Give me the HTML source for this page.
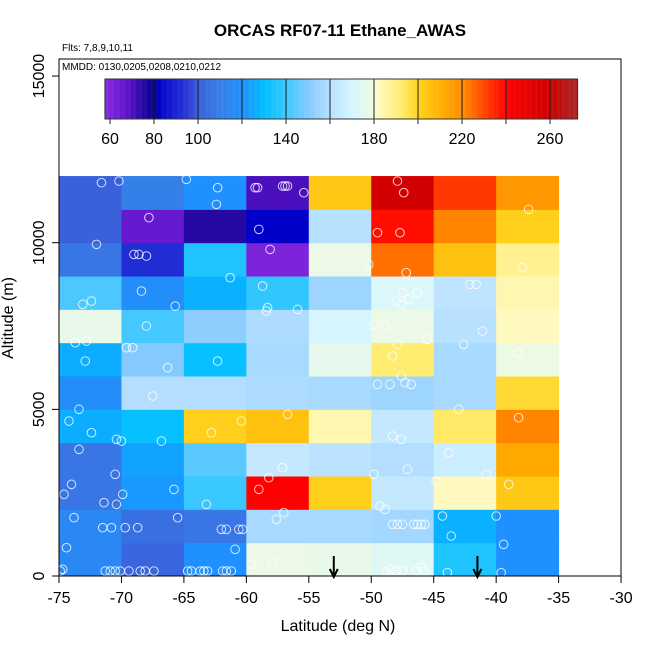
<!DOCTYPE html>
<html><head><meta charset="utf-8"><style>
html,body{margin:0;padding:0;background:#fff;}
svg{display:block;font-family:"Liberation Sans",sans-serif;}
</style></head><body>
<svg id="chart" width="650" height="650" viewBox="0 0 650 650">
<rect x="0" y="0" width="650" height="650" fill="#fff"/>
<text x="340" y="36" text-anchor="middle" font-size="17" font-weight="bold">ORCAS RF07-11 Ethane_AWAS</text>
<text x="62" y="51" font-size="10">Flts: 7,8,9,10,11</text>
<text x="62" y="70" font-size="10">MMDD: 0130,0205,0208,0210,0212</text>
<g id="cells"></g>
<g id="points"></g>
<g id="arrows"></g>
<g id="cbar"></g>
<g id="axes"></g>
<rect x="59" y="59" width="562" height="517" fill="none" stroke="#000" stroke-width="1"/>
<text x="338" y="631" text-anchor="middle" font-size="16">Latitude (deg N)</text>
<text transform="translate(13,318) rotate(-90)" text-anchor="middle" font-size="16">Altitude (m)</text>
</svg>
<script>
const latBins = [-75,-70,-65,-60,-55,-50,-45,-40];
const altBins = [0,1000,2000,3000,4000,5000,6000,7000,8000,9000,10000,11000];
// values[row][col], row 0 = 0-1000 m
const row0 = [115,102,120,178,177,174,135,120];
const row1 = [115,105,107,157,157,156,127,120];
const row2 = [107,122,139,240,201,164,182,203];
const row3 = [107,124,144,164,161,159,166,212];
const row4 = [126,131,201,205,184,164,193,221];
const row5 = [118,159,159,158,157,155,157,198];
const row6 = [126,150,131,157,176,192,157,179];
const row7 = [177,141,152,158,170,178,160,182];
const row8 = [142,118,127,138,155,172,162,184];
const row9 = [107,92,135,60,178,224,205,188];
const row10 = [100,65,75,82,160,238,221,201];
const row11 = [100,110,120,70,203,258,232,217];
const values = [row0,row1,row2,row3,row4,row5,row6,row7,row8,row9,row10,row11];
const cbTicks = [60,80,100,140,180,220,260];
const cbBreaks = [80,100,120,140,160,180,200,220,240,260];
const xTicks = [-75,-70,-65,-60,-55,-50,-45,-40,-35,-30];
const yTicks = [0,5000,10000,15000];
const arrowLats = [-53,-41.5];
const pointLat = [-71.6,-70.2,-64.8,-62.3,-62.4,-59.3,-59.1,-57.1,-56.9,-56.7,-55.4,-47.9,-47.4,-49.5,-47.7,-67.8,-72,-69,-68.6,-68,-59,-58.1,-37.4,-61.3,-47.2,-50.2,-37.9,-73.1,-72.4,-68.4,-65.7,-58.7,-58.3,-58.4,-55.9,-47.5,-47,-46.3,-48,-47.6,-42.1,-41.6,-73.7,-72.8,-68,-69.6,-69.1,-49.8,-48.9,-47.9,-45.5,-41.1,-38.3,-72.9,-66.3,-62.3,-48.3,-42.6,-47.6,-47.3,-67.5,-49.5,-48.5,-46.8,-73.4,-74.2,-72.4,-70.4,-70,-66.8,-62.8,-60.4,-56.7,-43,-38.2,-48.3,-47.6,-73.4,-70.5,-74,-74.6,-71.4,-70.4,-69.9,-65.8,-63.2,-57.1,-58.2,-59,-49.8,-47.1,-49.3,-48.9,-44.8,-43.8,-40.8,-39,-73.8,-71.5,-70.8,-69.7,-68.7,-65.5,-62,-61.6,-60.6,-60.3,-57.6,-57,-48.3,-47.9,-47.5,-46.6,-46.3,-46,-45.7,-44.3,-43.6,-40,-39.4,-74.4,-60.9,-74.9,-74.7,-71.3,-70.9,-70.5,-70.1,-69.4,-68.5,-68.1,-67.4,-64.7,-64.4,-63.7,-63.4,-63.1,-61.9,-61.6,-61.2,-59.6,-57.9,-48.8,-48.4,-48,-47.5,-46.4,-46,-45.8,-43.9,-39.6];
const pointAlt = [11800,11850,11900,11650,11150,11650,11650,11700,11700,11700,11500,11850,11500,10300,10300,10750,9950,9650,9650,9600,10400,9800,11000,8950,9100,9350,9250,8150,8250,8550,8100,8700,8050,7950,8000,8500,8300,8500,8250,8150,8750,8750,7000,7050,7500,6850,6850,7550,7500,6950,7100,7350,6700,6450,6250,6450,6600,6950,6000,5800,5400,5750,5750,5750,5000,4650,4300,4100,4050,4050,4300,4650,4850,5000,4750,4200,4100,3800,3050,2750,2450,2200,2150,2450,2600,2150,3250,2950,2600,3050,3200,2100,2000,2850,3700,3050,2750,1750,1450,1450,1450,1450,1750,1400,1400,1400,1400,1700,1900,1550,1550,1550,1550,1550,1550,1550,1800,1200,1800,950,850,800,150,200,150,150,150,150,150,150,150,150,150,150,150,150,150,150,150,150,350,400,150,200,150,150,150,250,150,100,100];

const NS='http://www.w3.org/2000/svg';
const x = v => 59 + (v + 75) * 12.49;
const y = v => 576 - v * 0.03333;
const cbx = v => 110 + (v - 60) * 2.2;
const stops = [[57,'#8a2be2'],[68,'#5a12c8'],[80,'#00008b'],[82,'#0000c8'],[95,'#2a3ad8'],[100,'#3a60dc'],[110,'#3580e8'],[120,'#1e90ff'],[130,'#00bfff'],[140,'#3ec8ff'],[150,'#84caff'],[160,'#b8e0ff'],[170,'#d6f6ff'],[180,'#f0fae0'],[181,'#fffac8'],[192,'#ffec70'],[200,'#ffd21e'],[210,'#ffb000'],[220,'#ff8c00'],[230,'#ff4500'],[240,'#ff0000'],[260,'#cd0000'],[273,'#a52a2a']];
function hex(c){return [1,3,5].map(i=>parseInt(c.substr(i,2),16));}
function col(v){
  if(v<=stops[0][0]) return stops[0][1];
  for(let i=1;i<stops.length;i++){
    if(v<=stops[i][0]){
      const a=hex(stops[i-1][1]), b=hex(stops[i][1]);
      const t=(v-stops[i-1][0])/(stops[i][0]-stops[i-1][0]);
      return 'rgb('+a.map((q,k)=>Math.round(q+(b[k]-q)*t)).join(',')+')';
    }
  }
  return stops[stops.length-1][1];
}
function mk(tag,attrs,parent){const e=document.createElementNS(NS,tag);for(const k in attrs)e.setAttribute(k,attrs[k]);parent.appendChild(e);return e;}

const gc=document.getElementById('cells');
values.forEach((row,r)=>row.forEach((v,c)=>{
  const e=mk('rect',{x:x(latBins[c]),y:y(altBins[r]+1000),width:x(latBins[c]+5)-x(latBins[c])+0.5,height:y(altBins[r])-y(altBins[r]+1000)+0.5,fill:col(v)},gc);
  
  
}));
const gp=document.getElementById('points');
pointLat.forEach((la,i)=>{
  const e=mk('circle',{cx:x(la),cy:y(pointAlt[i]),r:4.3,fill:'none',stroke:'#fff','stroke-opacity':0.8,'stroke-width':1},gp);
  
  
});
const ga=document.getElementById('arrows');
arrowLats.forEach(la=>{
  const e=mk('path',{d:`M${x(la)},556 L${x(la)},577 M${x(la)-4},569 L${x(la)},577 L${x(la)+4},569`,stroke:'#000','stroke-width':2,fill:'none'},ga);
  
  
});
// colorbar
const gb=document.getElementById('cbar');
for(let v=57.7;v<272.5;v+=0.5){
  const e=mk('rect',{x:cbx(v),y:79,width:1.3,height:40,fill:col(v)},gb);
  
  
}
cbBreaks.forEach(v=>{
  const e=mk('line',{x1:cbx(v),x2:cbx(v),y1:79,y2:124,stroke:'#222','stroke-width':1},gb);
  
  
});
{const e=mk('line',{x1:cbx(60),x2:cbx(60),y1:119,y2:124,stroke:'#222'},gb);}
{const e=mk('rect',{x:cbx(57.7),y:79,width:cbx(272.5)-cbx(57.7),height:40,fill:'none',stroke:'#333'},gb);}
cbTicks.forEach(v=>{
  const t=mk('text',{x:cbx(v),y:144,'text-anchor':'middle','font-size':16},gb);
  t.textContent=v;
  
  
});
// axes
const gx=document.getElementById('axes');
xTicks.forEach(v=>{
  const l=mk('line',{x1:x(v),x2:x(v),y1:576,y2:583,stroke:'#000'},gx);
  
  
  const t=mk('text',{x:x(v),y:603,'text-anchor':'middle','font-size':16},gx);
  t.textContent=v;
  
  
});
yTicks.forEach(v=>{
  const l=mk('line',{x1:52,x2:59,y1:y(v),y2:y(v),stroke:'#000'},gx);
  
  
  const t=mk('text',{transform:`translate(44,${y(v)}) rotate(-90)`,'text-anchor':'middle','font-size':16},gx);
  t.textContent=v;
  
  
});
</script>
</body></html>
